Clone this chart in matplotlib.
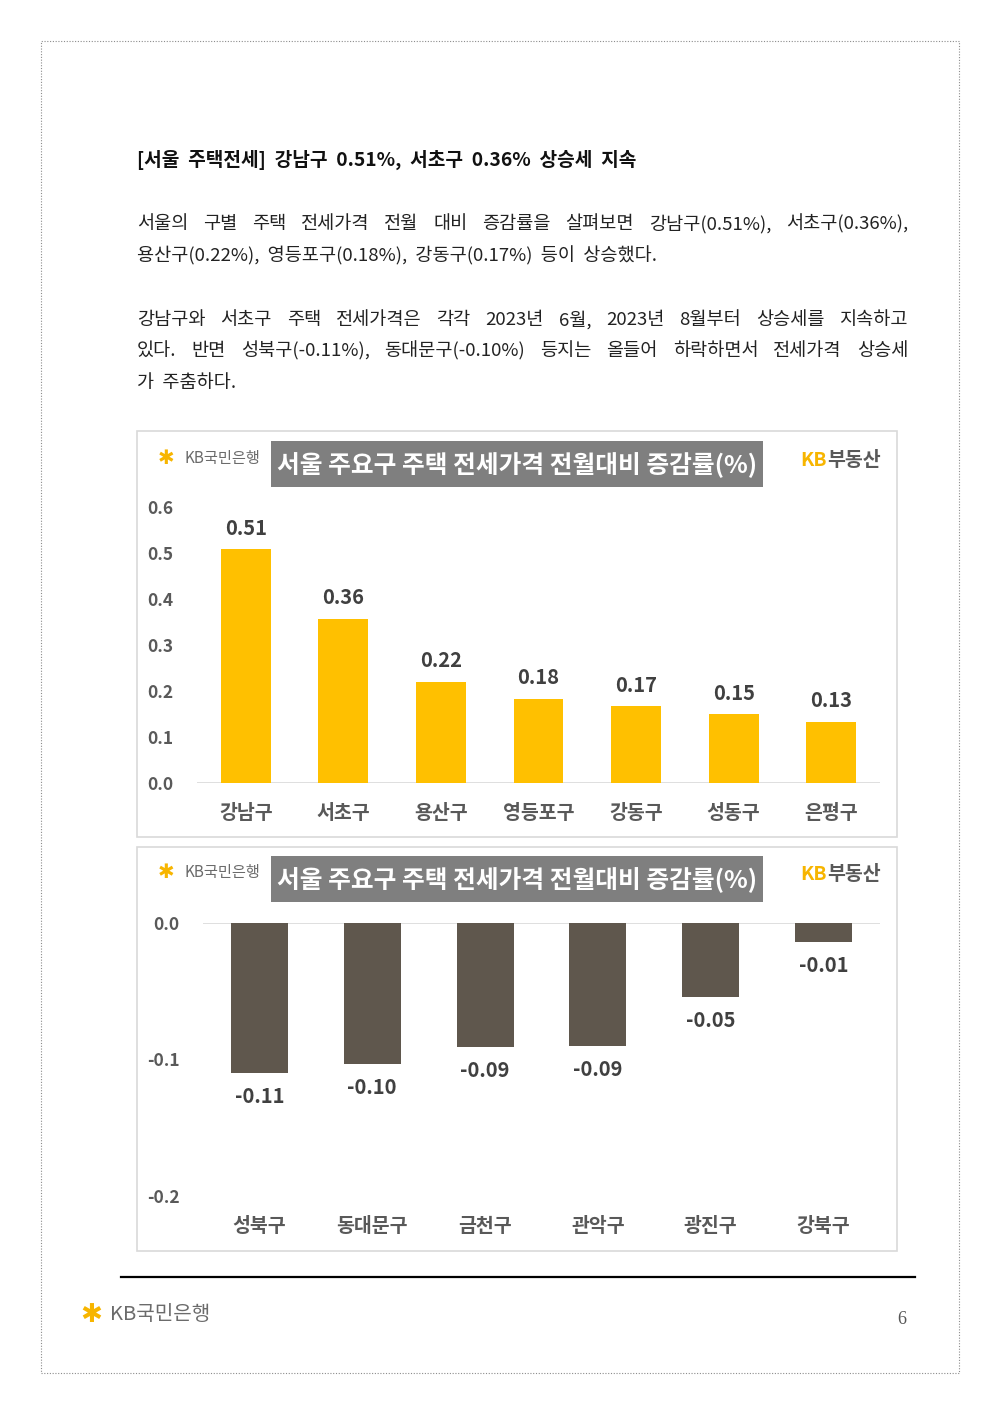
import matplotlib
matplotlib.use("Agg")
import matplotlib.pyplot as plt
from matplotlib.patches import Rectangle

plt.rcParams['font.family'] = ['Noto Sans CJK KR', 'DejaVu Sans']

# ---------------- data ----------------
cats_up = ['강남구', '서초구', '용산구', '영등포구', '강동구', '성동구', '은평구']
vals_up = [0.509, 0.357, 0.220, 0.183, 0.167, 0.150, 0.133]
yticks_up = [0.0, 0.1, 0.2, 0.3, 0.4, 0.5, 0.6]

cats_down = ['성북구', '동대문구', '금천구', '관악구', '광진구', '강북구']
vals_down = [-0.110, -0.103, -0.091, -0.090, -0.054, -0.014]
yticks_down = [-0.2, -0.1, 0.0]

chart_title = '서울 주요구 주택 전세가격 전월대비 증감률(%)'
heading = '[서울  주택전세]  강남구  0.51%,  서초구  0.36%  상승세  지속'
para_lines = [
    ('서울의 구별 주택 전세가격 전월 대비 증감률을 살펴보면 강남구(0.51%), 서초구(0.36%),', True),
    ('용산구(0.22%),  영등포구(0.18%),  강동구(0.17%)  등이  상승했다.', False),
    ('강남구와 서초구 주택 전세가격은 각각 2023년 6월, 2023년 8월부터 상승세를 지속하고', True),
    ('있다. 반면 성북구(-0.11%), 동대문구(-0.10%) 등지는 올들어 하락하면서 전세가격 상승세', True),
    ('가  주춤하다.', False),
]
para_y = [224, 256, 320, 351, 383]

YELLOW = '#FFC000'
BROWN = '#5F574D'
GRAYTXT = '#595959'
DARKTXT = '#404040'
FRAME = '#D9D9D9'

W, H = 1000, 1414
fig = plt.figure(figsize=(W / 100, H / 100), dpi=100)
fig.patch.set_facecolor('white')


def P(x, y):
    return (x / W, 1 - y / H)


def rect(x0, y0, x1, y1, **kw):
    r = Rectangle(P(x0, y1), (x1 - x0) / W, (y1 - y0) / H, transform=fig.transFigure, **kw)
    fig.add_artist(r)
    return r


# page border (dotted)
rect(41, 41, 959, 1373, fill=False, edgecolor='#8C8C8C', linewidth=0.8, linestyle=(0, (1, 1.5)))

# heading
fig.text(*P(137, 160), heading, fontsize=13.8, fontweight='bold', color='#111111', va='center', ha='left')

# justified paragraph text
renderer = fig.canvas.get_renderer()
for (line, justify), y in zip(para_lines, para_y):
    if not justify:
        fig.text(*P(137, y), line, fontsize=13.4, color='#222222', va='center', ha='left')
        continue
    words = line.split(' ')
    txts = [fig.text(*P(137, y), w, fontsize=13.4, color='#222222', va='center', ha='left') for w in words]
    widths = [t.get_window_extent(renderer).width for t in txts]
    total = sum(widths)
    gap = (908 - 137 - total) / (len(words) - 1)
    x = 137
    for t, wd in zip(txts, widths):
        t.set_position(P(x, y))
        x += wd + gap


def kb_bank_logo(x, y, size, offset):
    fig.text(*P(x, y), '✱', fontsize=size * 1.3, color='#F7B500', va='center', ha='left',
             family=['DejaVu Sans'], fontweight='bold')
    fig.text(*P(x + offset, y), 'KB국민은행', fontsize=size, color='#6B6B6B', va='center', ha='left')


def kb_land_logo(x, y):
    fig.text(*P(x, y), 'KB', fontsize=14, color='#F7B500', va='center', ha='left', fontweight='bold')
    fig.text(*P(x + 27, y), '부동산', fontsize=14, color='#595959', va='center', ha='left', fontweight='bold')


def chart_header(ytop):
    rect(271, ytop + 10, 763, ytop + 56, facecolor='#7F7F7F', edgecolor='none')
    fig.text(*P(517, ytop + 34), chart_title, fontsize=17.8, color='white', fontweight='bold',
             va='center', ha='center')
    kb_bank_logo(158, ytop + 27, 11, 27)
    kb_land_logo(800, ytop + 29)


# ---------------- chart 1 ----------------
rect(137, 431, 897, 837, fill=False, edgecolor=FRAME, linewidth=1.2)
chart_header(431)

ax1 = fig.add_axes([197 / W, 1 - 783 / H, (880 - 197) / W, (783 - 507) / H])
xs1 = range(len(cats_up))
ax1.bar(xs1, vals_up, width=0.51, color=YELLOW, zorder=2)
ax1.set_xlim(-0.5, len(cats_up) - 0.5)
ax1.set_ylim(0, 0.6)
ax1.set_yticks(yticks_up)
ax1.set_yticklabels([f'{v:.1f}' for v in yticks_up], fontsize=12.5, fontweight='bold', color=GRAYTXT)
ax1.set_xticks(list(xs1))
ax1.set_xticklabels(cats_up, fontsize=14, fontweight='bold', color=GRAYTXT)
ax1.tick_params(axis='y', length=0, pad=17)
ax1.tick_params(axis='x', length=0, pad=15)
for s in ax1.spines.values():
    s.set_visible(False)
ax1.axhline(0, color=FRAME, linewidth=1.2, zorder=1)
ax1.patch.set_alpha(0)
for x, v in zip(xs1, vals_up):
    ax1.annotate(f'{v:.2f}', (x, v), xytext=(0, 15), textcoords='offset points',
                 ha='center', va='center', fontsize=14.5, fontweight='bold', color=DARKTXT)

# ---------------- chart 2 ----------------
rect(137, 847, 897, 1251, fill=False, edgecolor=FRAME, linewidth=1.2)
chart_header(846)

ax2 = fig.add_axes([203 / W, 1 - 1196 / H, (880 - 203) / W, (1196 - 923) / H])
xs2 = range(len(cats_down))
ax2.bar(xs2, vals_down, width=0.505, color=BROWN, zorder=2)
ax2.set_xlim(-0.5, len(cats_down) - 0.5)
ax2.set_ylim(-0.2, 0)
ax2.set_yticks(yticks_down)
ax2.set_yticklabels([f'{v:.1f}' for v in yticks_down], fontsize=12.5, fontweight='bold', color=GRAYTXT)
ax2.set_xticks(list(xs2))
ax2.set_xticklabels(cats_down, fontsize=14, fontweight='bold', color=GRAYTXT)
ax2.tick_params(axis='y', length=0, pad=17)
ax2.tick_params(axis='x', length=0, pad=15)
for s in ax2.spines.values():
    s.set_visible(False)
ax2.axhline(0, color=FRAME, linewidth=1.2, zorder=1)
ax2.patch.set_alpha(0)
for x, v in zip(xs2, vals_down):
    ax2.annotate(f'{v:.2f}', (x, v), xytext=(0, -17), textcoords='offset points',
                 ha='center', va='center', fontsize=14.5, fontweight='bold', color=DARKTXT)

# ---------------- footer ----------------
fig.add_artist(plt.Line2D([121 / W, 915 / W], [1 - 1277 / H] * 2, color='black', linewidth=1.6,
                          transform=fig.transFigure))
kb_bank_logo(80, 1315, 14.5, 30)
fig.text(*P(902, 1320), '6', fontsize=13, color='#555555', va='center', ha='center',
         family=['Liberation Serif'])

fig.savefig('out.png', dpi=100, facecolor='white')
